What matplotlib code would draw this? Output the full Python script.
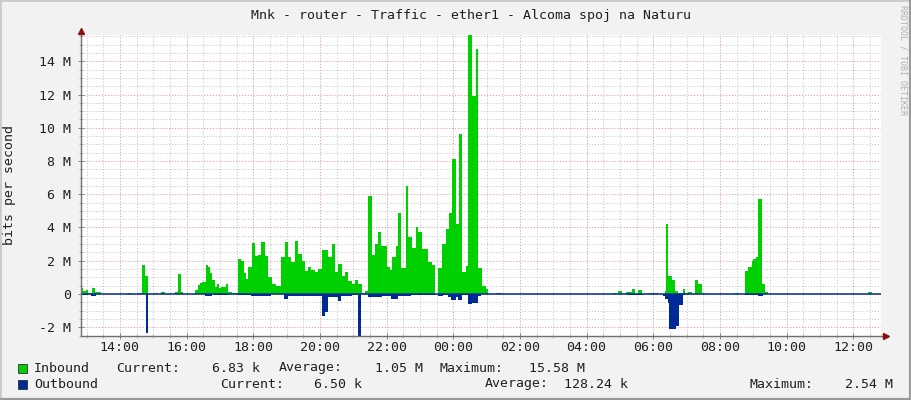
import matplotlib
matplotlib.use("Agg")
import matplotlib.pyplot as plt
from matplotlib.ticker import MultipleLocator, FuncFormatter
from matplotlib.lines import Line2D
from matplotlib.patches import Rectangle

# traffic graph, 24h window 12:50 -> 12:50 next day (hours > 24 = next day)
# values in Mbit/s, each value holds until the next time stamp (rrd steps)
in_hours = [12.83, 12.88, 12.98, 13.05, 13.15, 13.25, 13.43, 14.23, 14.33, 14.55,
            14.65, 14.75, 14.85, 15.05, 15.15, 15.23, 15.35, 15.65, 15.75, 15.82,
            15.88, 16.25, 16.33, 16.39, 16.45, 16.57, 16.63, 16.71, 16.75, 16.85,
            16.91, 16.97, 17.03, 17.19, 17.25, 17.35, 17.55, 17.63, 17.71, 17.77,
            17.85, 17.95, 18.05, 18.13, 18.23, 18.35, 18.43, 18.55, 18.67, 18.83,
            18.95, 19.05, 19.13, 19.25, 19.35, 19.45, 19.55, 19.65, 19.73, 19.85,
            19.95, 20.05, 20.25, 20.35, 20.45, 20.55, 20.65, 20.75, 20.85, 20.95,
            21.05, 21.15, 21.25, 21.35, 21.45, 21.55, 21.65, 21.75, 21.83, 22.01,
            22.09, 22.17, 22.27, 22.35, 22.43, 22.57, 22.65, 22.75, 22.87, 22.95,
            23.07, 23.25, 23.37, 23.45, 23.55, 23.67, 23.77, 23.87, 23.97, 24.07,
            24.17, 24.27, 24.37, 24.45, 24.57, 24.67, 24.75, 24.87, 24.97, 25.05,
            25.27, 25.45, 28.78, 28.88, 28.95, 29.05, 29.18, 29.35, 29.45, 29.55,
            29.67, 29.85, 30.15, 30.35, 30.39, 30.45, 30.55, 30.65, 30.73, 30.88,
            30.95, 31.05, 31.15, 31.25, 31.35, 31.45, 31.55, 32.45, 32.55, 32.75,
            32.83, 32.95, 32.99, 33.07, 33.15, 33.25, 33.35, 33.45, 36.45, 36.55,
            36.83]
in_mbps = [0.35, 0.15, 0.25, 0.03, 0.36, 0.12, 0.01, 0.06, 0.01, 0.05,
           1.75, 1.08, 0.0, 0.05, 0.01, 0.12, 0.02, 0.1, 1.2, 0.1,
           0.02, 0.25, 0.55, 0.65, 0.7, 1.75, 1.6, 1.25, 0.85, 0.4,
           0.58, 0.35, 0.42, 0.6, 0.12, 0.08, 2.1, 2.0, 1.25, 0.9,
           1.6, 3.05, 2.3, 2.35, 3.15, 2.3, 1.0, 0.6, 0.45, 2.2,
           3.1, 2.2, 1.9, 3.2, 2.4, 2.0, 1.4, 1.65, 1.45, 1.3,
           1.5, 2.65, 2.25, 3.0, 1.3, 1.8, 1.1, 1.3, 0.8, 0.6,
           0.85, 0.6, 0.05, 0.15, 5.9, 2.35, 3.0, 3.7, 2.9, 1.6,
           1.45, 2.2, 2.9, 4.85, 1.55, 6.5, 3.4, 2.75, 4.05, 3.7,
           2.7, 1.95, 1.75, 0.0, 1.55, 3.0, 3.9, 4.9, 8.1, 4.2,
           9.6, 1.35, 1.7, 15.58, 11.9, 14.75, 1.55, 0.45, 0.3, 0.0,
           0.05, 0.0, 0.05, 0.0, 0.18, 0.02, 0.1, 0.28, 0.02, 0.25,
           0.0, 0.05, 0.0, 0.2, 4.2, 1.05, 0.85, 0.2, 0.03, 0.3,
           0.03, 0.12, 0.0, 0.85, 0.6, 0.05, 0.0, 0.05, 0.0, 1.4,
           1.6, 2.0, 2.1, 2.2, 5.7, 0.6, 0.1, 0.0, 0.1, 0.0,
           0.0]

out_hours = [12.83, 13.05, 13.13, 13.28, 14.78, 14.85, 16.55, 16.75, 16.83, 17.25,
             17.55, 17.93, 18.13, 18.33, 18.53, 18.93, 19.05, 19.45, 19.55, 20.05,
             20.15, 20.23, 20.55, 20.63, 20.95, 21.15, 21.23, 21.45, 21.85, 22.13,
             22.33, 22.73, 23.45, 23.55, 23.68, 23.83, 23.93, 24.08, 24.15, 24.25,
             24.45, 24.55, 24.73, 24.83, 29.2, 29.7, 30.28, 30.35, 30.43, 30.47,
             30.67, 30.77, 30.88, 30.95, 32.75, 33.15, 33.28, 36.83]
out_mbps = [-0.08, 0.0, -0.1, 0.0, -2.33, 0.0, -0.1, 0.0, -0.08, 0.0,
            -0.05, -0.1, -0.15, -0.1, 0.0, -0.3, -0.1, -0.15, -0.1, -1.35,
            -1.1, -0.2, -0.4, -0.1, -0.05, -2.54, 0.0, -0.2, -0.1, -0.3,
            -0.1, -0.05, 0.0, -0.15, -0.05, -0.2, -0.35, -0.2, -0.35, -0.05,
            -0.6, -0.55, -0.1, 0.0, -0.08, 0.0, -0.1, -0.3, -0.55, -2.1,
            -1.93, -0.68, -0.05, 0.0, -0.05, -0.15, 0.0, 0.0]

title = "Mnk - router - Traffic - ether1 - Alcoma spoj na Naturu"
legend_rows = [
    ("Inbound", "#00CF00", [("Current:", 116), ("6.83 k", 212), ("Average:", 279),
                            ("1.05 M", 375), ("Maximum:", 440), ("15.58 M", 529)]),
    ("Outbound", "#002A97", [("Current:", 220), ("6.50 k", 314), ("Average:", 485),
                             ("128.24 k", 564), ("Maximum:", 750), ("2.54 M", 845)]),
]

W, H = 911, 400
MONO = "DejaVu Sans Mono"
plt.rcParams["font.family"] = MONO

fig = plt.figure(figsize=(W / 100, H / 100), dpi=100, facecolor="#F2F2F2")
ax = fig.add_axes([81 / W, (H - 335.5) / H, 800 / W, 300.5 / H], facecolor="white")

ax.fill_between(in_hours, in_mbps, 0, step="post", color="#00CF00", linewidth=0, zorder=3)
ax.fill_between(out_hours, out_mbps, 0, step="post", color="#002A97", linewidth=0, zorder=3)
ax.axhline(0, color="#002A97", lw=1.1, zorder=4)

ax.set_xlim(12.833, 36.833)
ax.set_ylim(-2.5, 15.58)

ax.xaxis.set_major_locator(MultipleLocator(2))
ax.xaxis.set_minor_locator(MultipleLocator(0.5))
ax.yaxis.set_major_locator(MultipleLocator(2))
ax.yaxis.set_minor_locator(MultipleLocator(0.5))
ax.xaxis.set_major_formatter(FuncFormatter(lambda h, p: f"{int(round(h)) % 24:02d}:00"))
ax.yaxis.set_major_formatter(FuncFormatter(lambda v, p: "0" if abs(v) < 1e-9 else f"{v:.0f} M"))

dots = (0, (1.2, 1.8))
ax.grid(which="minor", color="#C8C8C8", lw=0.7, linestyle=dots, zorder=1)
ax.grid(which="major", color="#EE9A9A", lw=0.7, linestyle=dots, zorder=2)
ax.set_axisbelow(True)

ax.tick_params(which="major", direction="inout", length=4, width=0.6, color="#777777",
               labelsize=9.5, labelcolor="#202020")
ax.tick_params(axis="y", which="major", pad=5)
ax.tick_params(axis="x", which="major", pad=2)
ax.tick_params(which="minor", direction="inout", length=3, width=0.5, color="#999999")

for side in ("top", "right"):
    ax.spines[side].set_visible(False)
for side in ("left", "bottom"):
    ax.spines[side].set_color("#707070")
    ax.spines[side].set_linewidth(1.0)
    ax.spines[side].set_zorder(5)

# axis arrows
ax.plot([36.833, 36.98], [-2.5, -2.5], color="#707070", lw=1.0, clip_on=False, zorder=5)
ax.plot(36.98, -2.5, marker=">", color="#8B1010", ms=5, clip_on=False, zorder=6)
ax.plot(12.833, 15.58 + 0.25, marker="^", color="#8B1010", ms=5, clip_on=False, zorder=6)

fig.text(471.5 / W, 1 - 15 / H, title, ha="center", va="center", fontsize=9.5, color="#202020")
fig.text(10 / W, 1 - 185 / H, "bits per second", rotation=90, ha="center", va="center",
         fontsize=9.5, color="#202020")
fig.text(903 / W, 1 - 5 / H, "RRDTOOL / TOBI OETIKER", rotation=-90, ha="center", va="top",
         fontsize=6, color="#B0B0B0")

for i, (name, col, fields) in enumerate(legend_rows):
    yc = 368 + 16 * i
    fig.add_artist(Rectangle((18 / W, 1 - (yc + 4.5) / H), 9 / W, 9 / H, transform=fig.transFigure,
                             facecolor=col, edgecolor="#303030", lw=0.6))
    fig.text(34 / W, 1 - yc / H, name, ha="left", va="center", fontsize=9.5, color="#202020")
    for txt, x in fields:
        fig.text(x / W, 1 - yc / H, txt, ha="left", va="center", fontsize=9.5, color="#202020")

# shaded frame
fig.add_artist(Line2D([0, 0, 1], [0, 1, 1], transform=fig.transFigure, color="#CBCBCB", lw=2))
fig.add_artist(Line2D([0, 1, 1], [0, 0, 1], transform=fig.transFigure, color="#999999", lw=3))

fig.savefig("out.png", dpi=100, facecolor=fig.get_facecolor())
